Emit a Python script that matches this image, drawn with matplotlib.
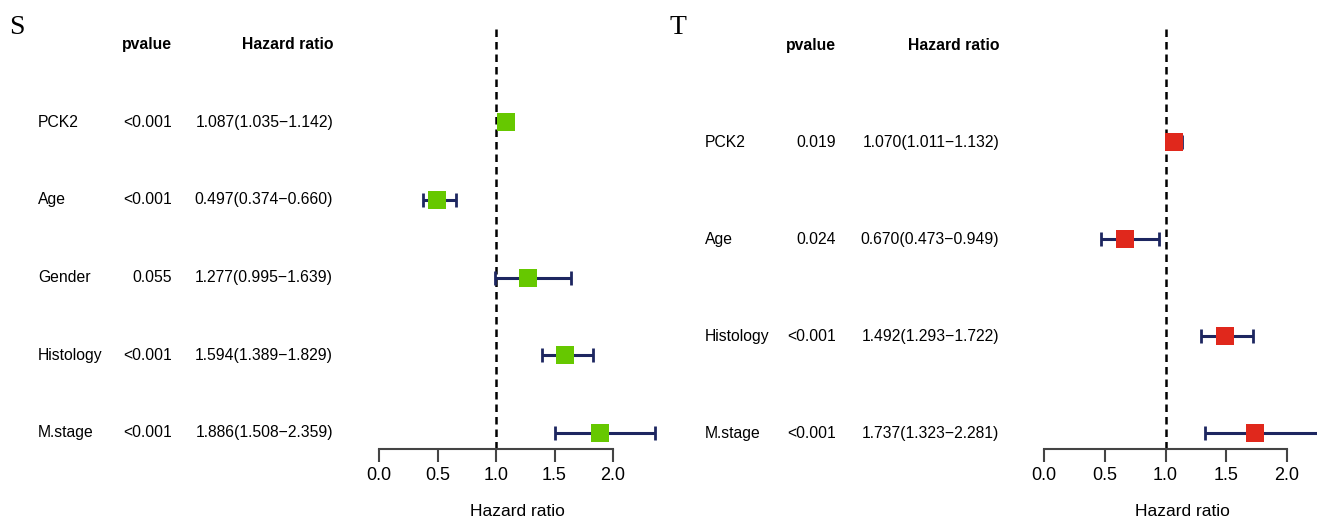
import matplotlib
matplotlib.use("Agg")
import matplotlib.pyplot as plt
from matplotlib import font_manager
from matplotlib.transforms import blended_transform_factory

# Data - panel S
s_labels = ['PCK2', 'Age', 'Gender', 'Histology', 'M.stage']
s_pvals = ['<0.001', '<0.001', '0.055', '<0.001', '<0.001']
s_hr = [1.087, 0.497, 1.277, 1.594, 1.886]
s_low = [1.035, 0.374, 0.995, 1.389, 1.508]
s_high = [1.142, 0.660, 1.639, 1.829, 2.359]

# Data - panel T
t_labels = ['PCK2', 'Age', 'Histology', 'M.stage']
t_pvals = ['0.019', '0.024', '<0.001', '<0.001']
t_hr = [1.070, 0.670, 1.492, 1.737]
t_low = [1.011, 0.473, 1.293, 1.323]
t_high = [1.132, 0.949, 1.722, 2.281]

x_ticks = [0.0, 0.5, 1.0, 1.5, 2.0]

W, H = 1317, 521
fig = plt.figure(figsize=(W / 100, H / 100), dpi=100)

# narrow font for table text if available
installed = {f.name for f in font_manager.fontManager.ttflist}
if 'Liberation Sans Narrow' in installed:
    tab_font, tab_size = 'Liberation Sans Narrow', 13
else:
    tab_font, tab_size = 'Liberation Sans', 11.3
plt.rcParams['font.family'] = ['Liberation Sans', 'DejaVu Sans']

ERR_COL = '#1d2660'


def forest(letter, letter_x, labels, pvals, hr, low, high, color,
           x0_px, px_per_unit, ylims, col_label, col_p, col_hr):
    n = len(labels)
    xmax = max(high)
    left = x0_px / W
    width = xmax * px_per_unit / W
    bottom = 1 - 449 / H
    top = 1 - 25 / H
    ax = fig.add_axes([left, bottom, width, top - bottom])
    ax.set_xlim(0, xmax)
    ax.set_ylim(*ylims)

    ys = list(range(n, 0, -1))
    xerr = [[h - l for h, l in zip(hr, low)], [u - h for h, u in zip(hr, high)]]

    ax.axvline(1.0, color='black', lw=1.8, dashes=(3, 2), zorder=1)
    ax.errorbar(hr, ys, xerr=xerr, fmt='none', ecolor=ERR_COL, elinewidth=2.2,
                capsize=5, capthick=2, clip_on=False, zorder=2)
    ax.plot(hr, ys, 's', color=color, markersize=12.5, markeredgewidth=0,
            clip_on=False, zorder=3)

    for sp in ['top', 'left', 'right']:
        ax.spines[sp].set_visible(False)
    ax.spines['bottom'].set_bounds(0, 2)
    ax.spines['bottom'].set_color('#444444')
    ax.spines['bottom'].set_linewidth(1.5)
    ax.set_yticks([])
    ax.set_xticks(x_ticks)
    ax.set_xticklabels([f"{v:.1f}" for v in x_ticks])
    ax.tick_params(axis='x', direction='out', length=9, width=1.5,
                   color='#444444', labelsize=13, pad=4)
    ax.set_xlabel('Hazard ratio', fontsize=12.5, labelpad=14)
    ax.patch.set_visible(False)

    # table text
    tr = blended_transform_factory(fig.transFigure, ax.transData)
    ax.text(col_p / W, n + 1, 'pvalue', transform=tr, ha='right', va='center',
            family=tab_font, fontsize=tab_size, fontweight='bold')
    ax.text(col_hr / W, n + 1, 'Hazard ratio', transform=tr, ha='right', va='center',
            family=tab_font, fontsize=tab_size, fontweight='bold')
    for y, lab, p, h, l, u in zip(ys, labels, pvals, hr, low, high):
        ax.text(col_label / W, y, lab, transform=tr, ha='left', va='center',
                family=tab_font, fontsize=tab_size)
        ax.text(col_p / W, y, p, transform=tr, ha='right', va='center',
                family=tab_font, fontsize=tab_size)
        ax.text(col_hr / W, y, f"{h:.3f}({l:.3f}\u2212{u:.3f})", transform=tr,
                ha='right', va='center', family=tab_font, fontsize=tab_size)

    fig.text(letter_x / W, 1 - 27 / H, letter, family='Liberation Serif',
             fontsize=20, ha='left', va='center')
    return ax


forest('S', 9, s_labels, s_pvals, s_hr, s_low, s_high, '#66c800',
       379, 117.0, (0.794, 6.25), 38, 172, 333)
forest('T', 670, t_labels, t_pvals, t_hr, t_low, t_high, '#e0281c',
       1044, 121.5, (0.835, 5.21), 705, 836, 999)

fig.savefig('out.png', dpi=100)
